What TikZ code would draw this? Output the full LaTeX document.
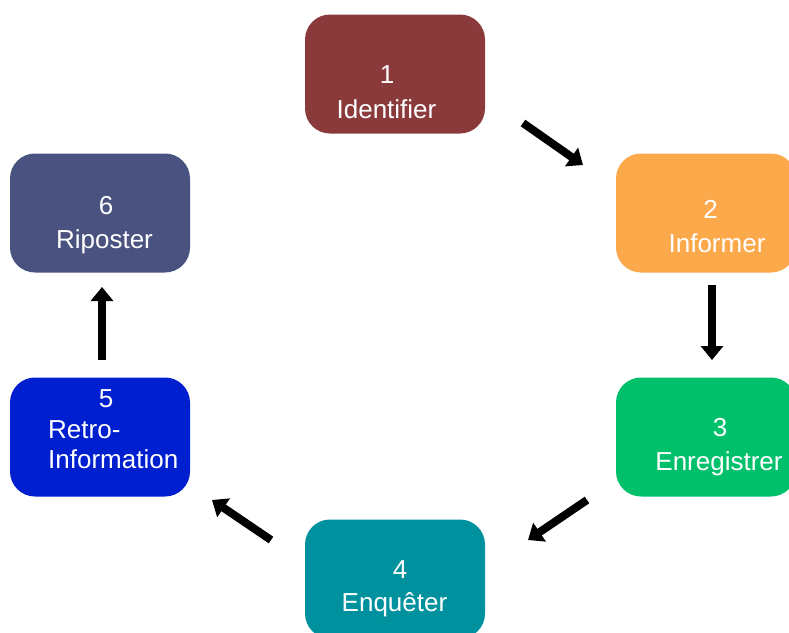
\documentclass[tikz,border=0pt]{standalone}
\usepackage{fontspec}
\setmainfont{Liberation Sans}
\usetikzlibrary{arrows.meta}
\definecolor{cone}{HTML}{8A3A3B}
\definecolor{ctwo}{HTML}{FBA94B}
\definecolor{cthree}{HTML}{00C06B}
\definecolor{cfour}{HTML}{00919E}
\definecolor{cfive}{HTML}{001FCF}
\definecolor{csix}{HTML}{4A527F}
\tikzset{
  box/.style={rounded corners=25pt, minimum width=180pt, minimum height=119pt, inner sep=0pt, draw=none},
  lbl/.style={text=white, anchor=base, inner sep=0pt, font=\fontsize{26}{31}\selectfont},
  flow/.style={line width=8pt, -{Triangle[width=22pt,length=14pt]}}
}
\begin{document}
\begin{tikzpicture}[x=1pt,y=-1pt]
\useasboundingbox (0,0) rectangle (789,632);
\clip (0,0) rectangle (789,632);
% boxes
\node[box, fill=cone]   (b1) at (395,74) {};
\node[box, fill=ctwo]   (b2) at (706,213) {};
\node[box, fill=cthree] (b3) at (706,437) {};
\node[box, fill=cfour]  (b4) at (395,579) {};
\node[box, fill=cfive]  (b5) at (100,437) {};
\node[box, fill=csix]   (b6) at (100,213) {};
% texts
\node[lbl] (n1) at (387,83) {1};
\node[lbl] (w1) at (386.5,118) {Identifier};
\node[lbl] (n2) at (710.5,218) {2};
\node[lbl] (w2) at (717,252) {Informer};
\node[lbl] (n3) at (720,436) {3};
\node[lbl] (w3) at (719,470) {Enregistrer};
\node[lbl] (n4) at (400,578) {4};
\node[lbl] (w4) at (394.5,611) {Enquêter};
\node[lbl] (n5) at (106,407) {5};
\node[lbl, anchor=base west] (w5a) at (48,438) {Retro-};
\node[lbl, anchor=base west] (w5b) at (48,468) {Information};
\node[lbl] (n6) at (106,214) {6};
\node[lbl] (w6) at (104.5,248) {Riposter};
% arrow end points
\coordinate (a1s) at (523,123);
\coordinate (a1e) at (583,165);
\coordinate (a2s) at (712,285);
\coordinate (a2e) at (712,360);
\coordinate (a3s) at (587,500);
\coordinate (a3e) at (528,540);
\coordinate (a4s) at (271,540);
\coordinate (a4e) at (212,500);
\coordinate (a5s) at (102,360);
\coordinate (a5e) at (102,287);
\draw[flow] (a1s) -- (a1e);
\draw[flow] (a2s) -- (a2e);
\draw[flow] (a3s) -- (a3e);
\draw[flow] (a4s) -- (a4e);
\draw[flow] (a5s) -- (a5e);
\end{tikzpicture}
\end{document}
